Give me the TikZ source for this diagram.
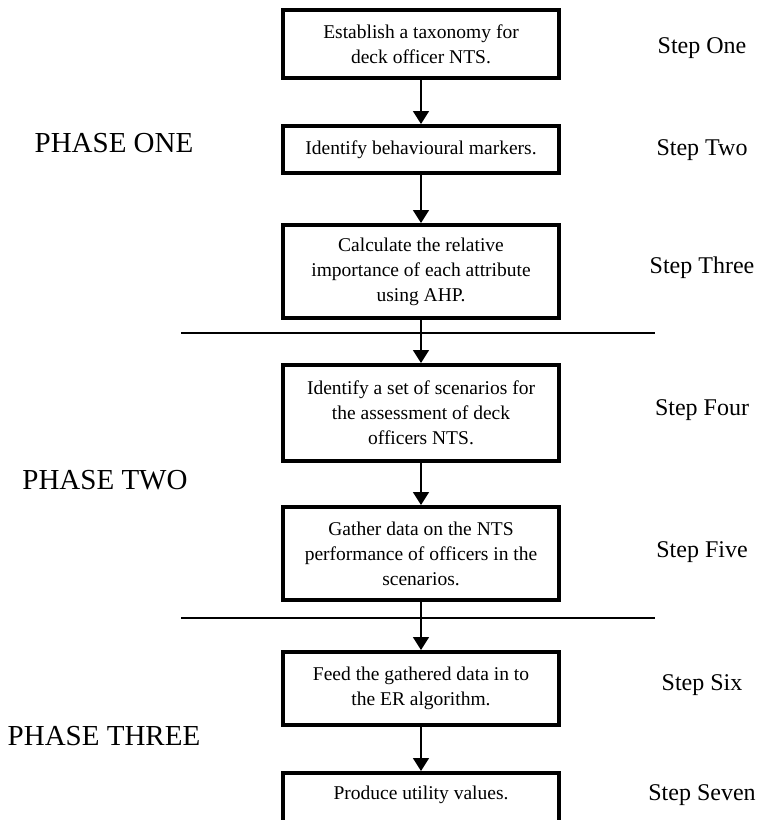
\documentclass[tikz,border=0pt]{standalone}
\usepackage{fontspec}
\setmainfont{Liberation Serif}
\usepackage{tikz}
\usetikzlibrary{positioning}
\usetikzlibrary{arrows.meta}
\newcommand\boxfont{\fontsize{9.75}{12.5}\selectfont}
\tikzset{
  stepbox/.style={draw=black, line width=2pt, minimum width=138pt, align=center, inner sep=0pt, font=\boxfont},
  steplabel/.style={font=\fontsize{12}{14}\selectfont},
  phaselabel/.style={font=\fontsize{14.5}{17}\selectfont},
  flow/.style={line width=0.8pt, -{Triangle[width=8pt,length=6.5pt]}}
}

\begin{document}
\begin{tikzpicture}[x=0.5pt, y=-0.5pt]
	\useasboundingbox (0,0) rectangle (759,820);
	\node[stepbox, minimum height=34pt] (b1) at (421,44) {Establish a taxonomy for\\deck officer NTS.};
	\node[stepbox, minimum height=23.5pt] (b2) at (421,149.5) {Identify behavioural markers.};
	\node[stepbox, minimum height=46.5pt] (b3) at (421,271.5) {Calculate the relative\\importance of each attribute\\using AHP.};
	\node[stepbox, minimum height=48pt] (b4) at (421,413) {Identify a set of scenarios for\\the assessment of deck\\officers NTS.};
	\node[stepbox, minimum height=46.5pt] (b5) at (421,553.5) {Gather data on the NTS\\performance of officers in the\\scenarios.};
	\node[stepbox, minimum height=36.5pt] (b6) at (421,688.5) {Feed the gathered data in to\\the ER algorithm.};
	\node[stepbox, minimum height=30pt, text depth=10pt] (b7) at (421,803) {Produce utility values.};
	\draw[flow] (b1) -- (b2);
	\draw[flow] (b2) -- (b3);
	\draw[flow] (b3) -- (b4);
	\draw[flow] (b4) -- (b5);
	\draw[flow] (b5) -- (b6);
	\draw[flow] (b6) -- (b7);
	\draw[line width=0.8pt] (181,333) -- (655,333);
	\draw[line width=0.8pt] (181,618) -- (655,618);
	\node[steplabel] (s1) at (702,48) {Step One};
	\node[steplabel] (s2) at (702,150) {Step Two};
	\node[steplabel] (s3) at (702,268) {Step Three};
	\node[steplabel] (s4) at (702,410) {Step Four};
	\node[steplabel] (s5) at (702,552) {Step Five};
	\node[steplabel] (s6) at (702,685) {Step Six};
	\node[steplabel] (s7) at (702,795) {Step Seven};
	\node[phaselabel] (p1) at (114,143) {PHASE ONE};
	\node[phaselabel] (p2) at (105,480) {PHASE TWO};
	\node[phaselabel] (p3) at (104,736) {PHASE THREE};
\end{tikzpicture}
\end{document}
